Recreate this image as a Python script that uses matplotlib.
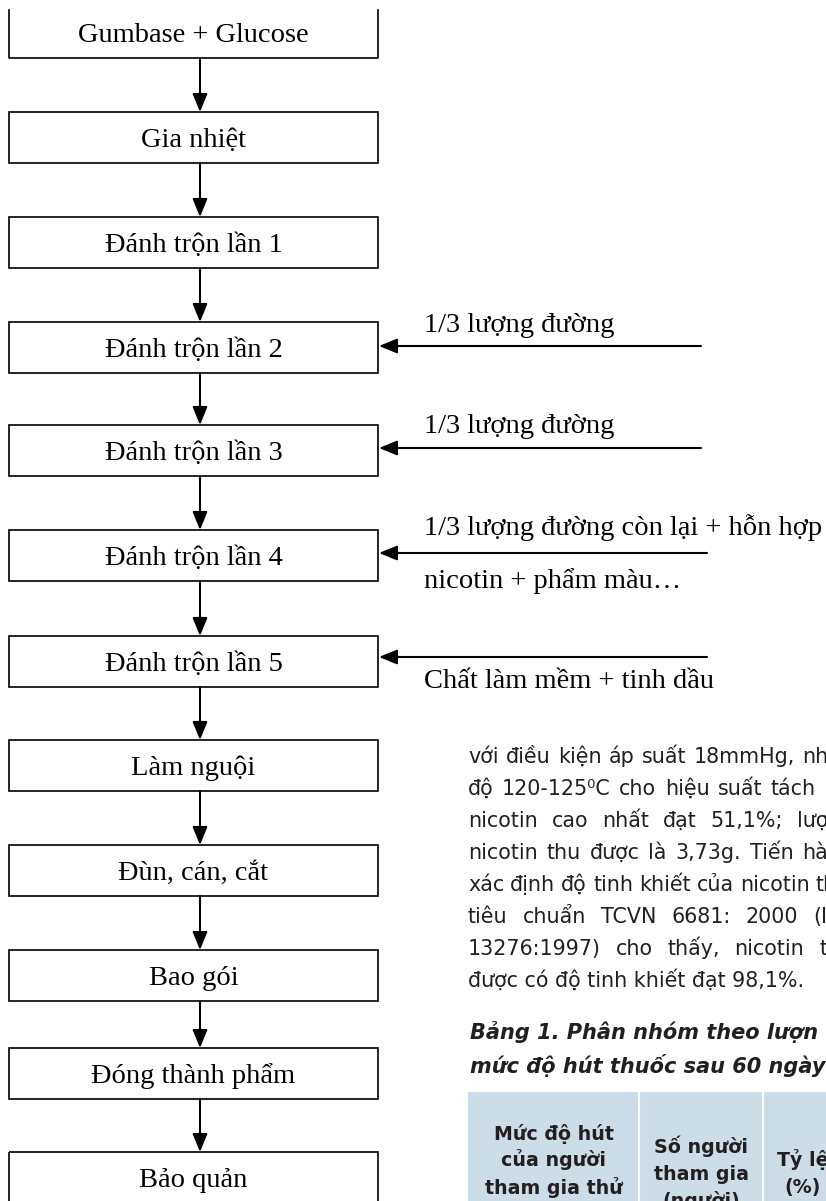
import matplotlib.pyplot as plt
from matplotlib.patches import Rectangle

# flowchart steps (top to bottom)
steps = ["Gumbase + Glucose", "Gia nhiệt", "Đánh trộn lần 1", "Đánh trộn lần 2",
         "Đánh trộn lần 3", "Đánh trộn lần 4", "Đánh trộn lần 5", "Làm nguội",
         "Đùn, cán, cắt", "Bao gói", "Đóng thành phẩm", "Bảo quản"]
box_tops = [7, 112, 217, 322, 425, 530, 636, 740, 845, 950, 1048, 1152]

# side inputs feeding into the mixing steps
input_arrow_y = [346, 448, 553, 657]
input_tail_x = [701, 701, 707, 707]
input_labels = ["1/3 lượng đường", "1/3 lượng đường",
                "1/3 lượng đường còn lại + hỗn hợp", "nicotin + phẩm màu…",
                "Chất làm mềm + tinh dầu"]
input_label_y = [332, 433, 535, 588, 688]

# page text to the right (justified column, cut by the right edge)
para_lines = ["với điều kiện áp suất 18mmHg, nh",
              "độ 120-125⁰C cho hiệu suất tách",
              "nicotin cao nhất đạt 51,1%; lượ",
              "nicotin thu được là 3,73g. Tiến hà",
              "xác định độ tinh khiết của nicotin th",
              "tiêu chuẩn TCVN 6681: 2000 (I",
              "13276:1997) cho thấy, nicotin t",
              "được có độ tinh khiết đạt 98,1%."]
para_right = [828, 816, 828, 828, 828, 827, 827, None]
title_lines = ["Bảng 1. Phân nhóm theo lượn", "mức độ hút thuốc sau 60 ngày"]
header_cols = [["Mức độ hút", "của người", "tham gia thử", "nghiệm"],
               ["Số người", "tham gia", "(người)"],
               ["Tỷ lệ", "(%)"]]
col_edges = [468, 639, 763, 842]

W, H = 826, 1201
fig = plt.figure(figsize=(W / 100, H / 100), dpi=100)
ax = fig.add_axes([0, 0, 1, 1])
ax.set_xlim(0, W)
ax.set_ylim(H, 0)
ax.axis("off")
renderer = fig.canvas.get_renderer()

serif = "Liberation Serif"
box_l, box_r, box_h = 9, 378, 51
cx = (box_l + box_r) / 2
arrow_x = 200
arrow_kw = dict(arrowstyle="-|>,head_length=1.1,head_width=0.45", color="black",
                lw=1.5, shrinkA=0, shrinkB=0, mutation_scale=10)

for i, (name, top) in enumerate(zip(steps, box_tops)):
    bottom = top + box_h
    if i == 0:
        ax.plot([box_l, box_l, box_r, box_r], [10, bottom, bottom, 10], color="black", lw=1.2)
    else:
        ax.add_patch(Rectangle((box_l, top), box_r - box_l, box_h, fill=False,
                               edgecolor="black", lw=1.2))
    ax.text(cx, top + 35, name, ha="center", va="baseline", fontsize=20.5, family=serif)
    if i + 1 < len(steps):
        ax.annotate("", xy=(arrow_x, box_tops[i + 1]), xytext=(arrow_x, bottom),
                    arrowprops=arrow_kw)

for ay, tx in zip(input_arrow_y, input_tail_x):
    ax.annotate("", xy=(box_r + 1, ay), xytext=(tx, ay), arrowprops=arrow_kw)
for lab, ly in zip(input_labels, input_label_y):
    ax.text(424, ly, lab, ha="left", va="baseline", fontsize=20.5, family=serif)

ink = "#231f20"
para_kw = dict(ha="left", va="baseline", fontsize=14.9, family="DejaVu Sans", color=ink)
x0 = 468
min_gap = 6
for k, (line, xr) in enumerate(zip(para_lines, para_right)):
    y = 763 + 32 * k
    if xr is None:
        ax.text(x0, y, line, **para_kw)
        continue
    words = line.split(" ")
    arts = [ax.text(x0, y, w, **para_kw) for w in words]
    widths = [a.get_window_extent(renderer).width for a in arts]
    gap = max(min_gap, (xr - x0 - sum(widths)) / (len(words) - 1))
    x = x0
    for a, w in zip(arts, widths):
        a.set_x(x)
        x += w + gap

for k, line in enumerate(title_lines):
    ax.text(470, 1039 + 34 * k, line, ha="left", va="baseline", fontsize=15,
            family="DejaVu Sans", weight="bold", style="italic", color=ink)

ax.add_patch(Rectangle((col_edges[0], 1092), W - col_edges[0], H - 1092 + 5,
                       facecolor="#cddde7", edgecolor="none"))
for xe in col_edges[1:-1]:
    ax.plot([xe, xe], [1092, H + 5], color="white", lw=1.5)
for j, col in enumerate(header_cols):
    ccx = (col_edges[j] + col_edges[j + 1]) / 2
    n = len(col)
    for k, line in enumerate(col):
        yc = 1175 + (k - (n - 1) / 2) * 27
        ax.text(ccx, yc + 5, line, ha="center", va="baseline", fontsize=13.7,
                family="DejaVu Sans", weight="bold", color=ink)

fig.savefig("out.png", dpi=100)
